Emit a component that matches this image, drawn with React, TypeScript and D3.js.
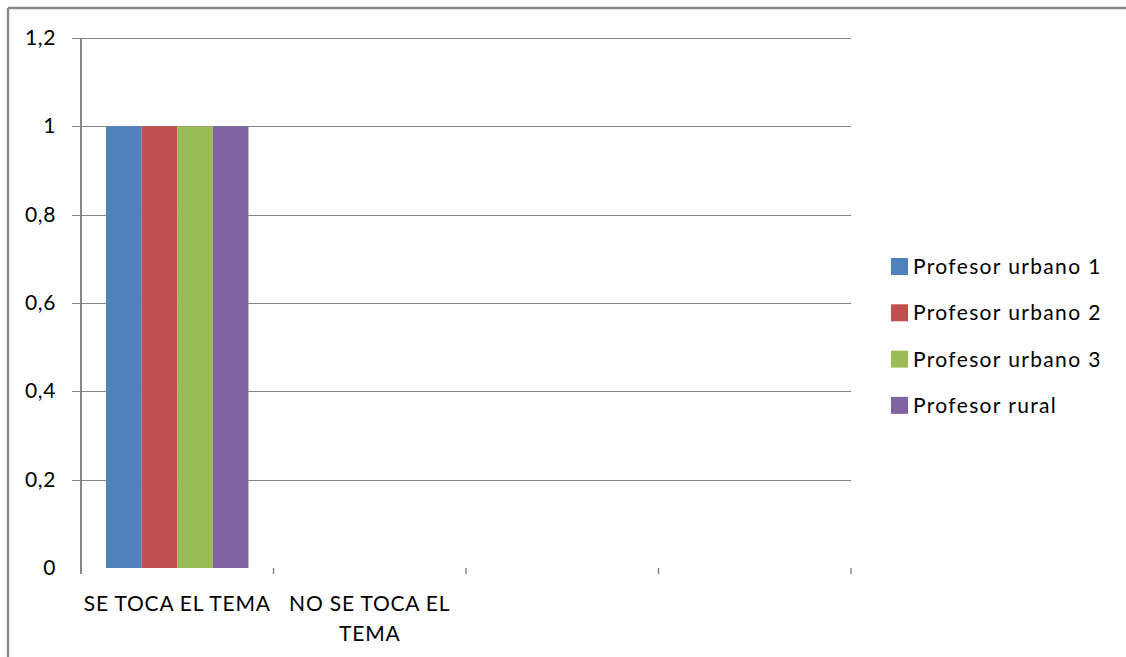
import React from "react";
import * as d3 from "d3";

const categories = ["SE TOCA EL TEMA", "NO SE TOCA EL TEMA", "", ""];
const categoryLines = [["SE TOCA EL TEMA"], ["NO SE TOCA EL", "TEMA"], [], []];
const seriesNames = ["Profesor urbano 1", "Profesor urbano 2", "Profesor urbano 3", "Profesor rural"];
const seriesColors = ["#4F81BD", "#C0504D", "#9BBB59", "#8064A2"];
const values: (number | null)[][] = [
  [1, null, null, null],
  [1, null, null, null],
  [1, null, null, null],
  [1, null, null, null],
];
const yTicks = [0, 0.2, 0.4, 0.6, 0.8, 1, 1.2];
const yTickLabels = ["0", "0,2", "0,4", "0,6", "0,8", "1", "1,2"];

const FONT = "Lato, 'Open Sans', sans-serif";

export default function App() {
  const W = 1126, H = 657;
  const left = 81, right = 851, top = 38, bottom = 568;
  const x = d3.scaleBand<string>().domain(categories.map((_, i) => String(i))).range([left, right]).paddingInner(0).paddingOuter(0);
  const y = d3.scaleLinear().domain([0, 1.2]).range([bottom, top]);
  const bw = x.bandwidth();
  const groupPad = bw * 0.13;
  const inner = d3.scaleBand<string>().domain(seriesNames).range([groupPad, bw - groupPad]);

  return (
    <svg width={W} height={H} style={{ position: "absolute", left: 0, top: 0, display: "block", background: "#fff" }}>
      <rect x={0} y={0} width={W} height={H} fill="#fff" />
      {/* outer frame */}
      <line x1={8} y1={8} x2={W} y2={8} stroke="#888" strokeWidth={2.5} />
      <line x1={8} y1={8} x2={8} y2={H} stroke="#888" strokeWidth={2.5} />
      {/* gridlines */}
      {yTicks.filter(t => t > 0).map(t => (
        <line key={t} x1={left - 9} x2={right} y1={Math.round(y(t)) + 0.5} y2={Math.round(y(t)) + 0.5} stroke="#868686" strokeWidth={1} />
      ))}
      {/* y labels */}
      {yTicks.map((t, i) => (
        <text key={t} x={56} y={y(t) + 7} textAnchor="end" fontFamily={FONT} fontSize={21} letterSpacing={0.6} fill="#000">{yTickLabels[i]}</text>
      ))}
      {/* bars */}
      {seriesNames.map((s, si) =>
        values[si].map((v, ci) => v == null ? null : (
          <rect key={s + ci} x={(x(String(ci)) as number) + (inner(s) as number)} width={inner.bandwidth()} y={y(v)} height={y(0) - y(v)} fill={seriesColors[si]} />
        ))
      )}
      {/* y axis */}
      <line x1={left} x2={left} y1={top} y2={bottom + 6} stroke="#868686" strokeWidth={2} />
      {/* x ticks */}
      {categories.map((_, i) => (
        <line key={i} x1={(x(String(i)) as number) + bw} x2={(x(String(i)) as number) + bw} y1={bottom} y2={bottom + 6} stroke="#868686" strokeWidth={1.5} />
      ))}
      {/* x labels */}
      {categoryLines.map((lines, i) => (
        <text key={i} textAnchor="middle" fontFamily={FONT} fontSize={21} letterSpacing={0.8} fill="#000">
          {lines.map((l, li) => (
            <tspan key={li} x={(x(String(i)) as number) + bw / 2} y={611 + li * 30}>{l}</tspan>
          ))}
        </text>
      ))}
      {/* legend */}
      {seriesNames.map((s, i) => (
        <g key={s} transform={`translate(891, ${258 + i * 46.3})`}>
          <rect x={0} y={0} width={17} height={17} fill={seriesColors[i]} />
          <text x={22} y={16} fontFamily={FONT} fontSize={21} letterSpacing={1.35} fill="#000">{s}</text>
        </g>
      ))}
    </svg>
  );
}
